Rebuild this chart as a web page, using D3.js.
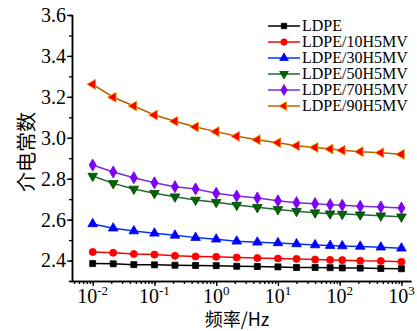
<!DOCTYPE html>
<html>
<head>
<meta charset="utf-8">
<script src="https://cdn.jsdelivr.net/npm/d3@7"></script>
<style>
  body { margin: 0; background: #fff; }
  svg { display: block; }
</style>
</head>
<body>
<svg></svg>
<script>
// Frequencies (Hz) and permittivity values
const freq = [0.01, 0.0215, 0.0464, 0.1, 0.215, 0.464, 1, 2.15, 4.64, 10, 20, 40, 70, 110, 215, 464, 1000];
const seriesNames = ["LDPE", "LDPE/10H5MV", "LDPE/30H5MV", "LDPE/50H5MV", "LDPE/70H5MV", "LDPE/90H5MV"];
const ldpe   = [2.385, 2.384, 2.380, 2.379, 2.377, 2.376, 2.375, 2.372, 2.371, 2.369, 2.366, 2.366, 2.365, 2.364, 2.363, 2.361, 2.360];
const h10    = [2.442, 2.438, 2.432, 2.429, 2.423, 2.420, 2.418, 2.415, 2.412, 2.410, 2.408, 2.405, 2.403, 2.402, 2.399, 2.398, 2.394];
const h30    = [2.579, 2.558, 2.544, 2.533, 2.523, 2.512, 2.504, 2.494, 2.489, 2.486, 2.481, 2.476, 2.473, 2.471, 2.469, 2.465, 2.460];
const h50    = [2.813, 2.777, 2.750, 2.729, 2.712, 2.696, 2.685, 2.671, 2.660, 2.650, 2.641, 2.634, 2.629, 2.627, 2.624, 2.619, 2.614];
const h70    = [2.867, 2.833, 2.805, 2.780, 2.761, 2.750, 2.729, 2.715, 2.706, 2.692, 2.683, 2.678, 2.673, 2.670, 2.665, 2.662, 2.657];
const h90    = [3.261, 3.198, 3.155, 3.111, 3.081, 3.053, 3.030, 3.007, 2.990, 2.976, 2.961, 2.953, 2.945, 2.939, 2.932, 2.927, 2.919];
const yTicks = [2.4, 2.6, 2.8, 3.0, 3.2, 3.4, 3.6];
const xTicks = [-2, -1, 0, 1, 2, 3];

const W = 417, H = 331;
const svg = d3.select("svg").attr("width", W).attr("height", H);

const x = d3.scaleLog()
  .domain([Math.pow(10, -2.335), Math.pow(10, 3.155)])
  .range([72, 411]);
const y = d3.scaleLinear()
  .domain([2.3, 3.6])
  .range([281, 15]);

const serif = "'Liberation Serif', 'Times New Roman', serif";

// Y axis
const yMinor = d3.range(2.3, 3.6001, 0.1).map(v => +v.toFixed(1));
const gy = svg.append("g").attr("transform", "translate(72,0)");
gy.call(d3.axisLeft(y).tickValues(yMinor).tickSize(3).tickFormat(""));
gy.append("g").call(d3.axisLeft(y).tickValues(yTicks).tickSize(5).tickSizeOuter(0)
  .tickFormat(d3.format(".1f")));
gy.selectAll("path.domain").attr("stroke", "#000").attr("stroke-width", 1.5);
gy.selectAll("line").attr("stroke", "#000").attr("stroke-width", 1.3);
gy.selectAll("text")
  .attr("font-family", serif).attr("font-size", 20).attr("fill", "#000")
  .attr("x", -6);

// X axis
const minor = [];
for (let e = -3; e <= 3; e++) for (let k = 1; k <= 9; k++) {
  const v = k * Math.pow(10, e);
  if (v >= x.domain()[0] && v <= x.domain()[1]) minor.push(v);
}
const gx = svg.append("g").attr("transform", "translate(0,281)");
gx.call(d3.axisBottom(x).tickValues(minor).tickSize(3).tickSizeOuter(0).tickFormat(""));
gx.append("g").call(d3.axisBottom(x).tickValues(xTicks.map(e => Math.pow(10, e)))
  .tickSize(5).tickSizeOuter(0).tickFormat(""));
gx.selectAll("path.domain").attr("stroke", "#000").attr("stroke-width", 1.5);
gx.selectAll("line").attr("stroke", "#000").attr("stroke-width", 1.3);

const xl = svg.append("g");
xTicks.forEach(e => {
  const t = xl.append("text")
    .attr("x", x(Math.pow(10, e))).attr("y", 303)
    .attr("text-anchor", "middle")
    .attr("font-family", serif).attr("font-size", 20).attr("fill", "#000");
  t.append("tspan").text("10");
  t.append("tspan").attr("dy", -8).attr("font-size", 13).text(e);
});

// Axis titles
svg.append("text")
  .attr("x", 237).attr("y", 326)
  .attr("text-anchor", "middle")
  .attr("font-family", "'Noto Sans CJK SC', sans-serif")
  .attr("font-size", 18).attr("fill", "#000")
  .text("频率/Hz");
svg.append("text")
  .attr("transform", "translate(34,152) rotate(-90)")
  .attr("text-anchor", "middle")
  .attr("font-family", "'Noto Sans CJK SC', sans-serif")
  .attr("font-size", 20).attr("fill", "#000")
  .text("介电常数");

// Series styles
const series = [
  { name: seriesNames[0], values: ldpe, line: "#000000", fill: "#000000", stroke: "#000000", sym: d3.symbolSquare, size: 36, rot: 0 },
  { name: seriesNames[1], values: h10,  line: "#ff0000", fill: "#ff0000", stroke: "#ff0000", sym: d3.symbolCircle, size: 40, rot: 0 },
  { name: seriesNames[2], values: h30,  line: "#0033ff", fill: "#0000ff", stroke: "#0000ff", sym: d3.symbolTriangle, size: 40, rot: 0 },
  { name: seriesNames[3], values: h50,  line: "#1f6a2f", fill: "#006600", stroke: "#004400", sym: d3.symbolTriangle, size: 40, rot: 180 },
  { name: seriesNames[4], values: h70,  line: "#7a2be0", fill: "#8000ff", stroke: "#7000e0", sym: d3.symbolDiamond, size: 42, rot: 0 },
  { name: seriesNames[5], values: h90,  line: "#b86000", fill: "#ff0000", stroke: "#e8b000", sym: d3.symbolTriangle, size: 44, rot: -90 }
];

const line = d3.line().x((d, i) => x(freq[i])).y(d => y(d));

series.forEach(s => {
  const g = svg.append("g");
  g.append("path")
    .attr("d", line(s.values))
    .attr("fill", "none")
    .attr("stroke", s.line)
    .attr("stroke-width", 1.5);
  g.selectAll("path.m")
    .data(s.values)
    .join("path")
    .attr("class", "m")
    .attr("d", d3.symbol().type(s.sym).size(s.size))
    .attr("transform", (d, i) => `translate(${x(freq[i])},${y(d)}) rotate(${s.rot})`)
    .attr("fill", s.fill)
    .attr("stroke", s.stroke)
    .attr("stroke-width", 0.8);
});

// Legend
const leg = svg.append("g");
series.forEach((s, i) => {
  const ly = 26 + i * 16;
  leg.append("line")
    .attr("x1", 268).attr("x2", 300).attr("y1", ly).attr("y2", ly)
    .attr("stroke", s.line).attr("stroke-width", 1.5);
  leg.append("path")
    .attr("d", d3.symbol().type(s.sym).size(s.size * 0.8))
    .attr("transform", `translate(284,${ly}) rotate(${s.rot})`)
    .attr("fill", s.fill).attr("stroke", s.stroke).attr("stroke-width", 0.8);
  leg.append("text")
    .attr("x", 302).attr("y", ly + 5)
    .attr("font-family", serif).attr("font-size", 16).attr("fill", "#000")
    .text(s.name);
});
</script>
</body>
</html>
